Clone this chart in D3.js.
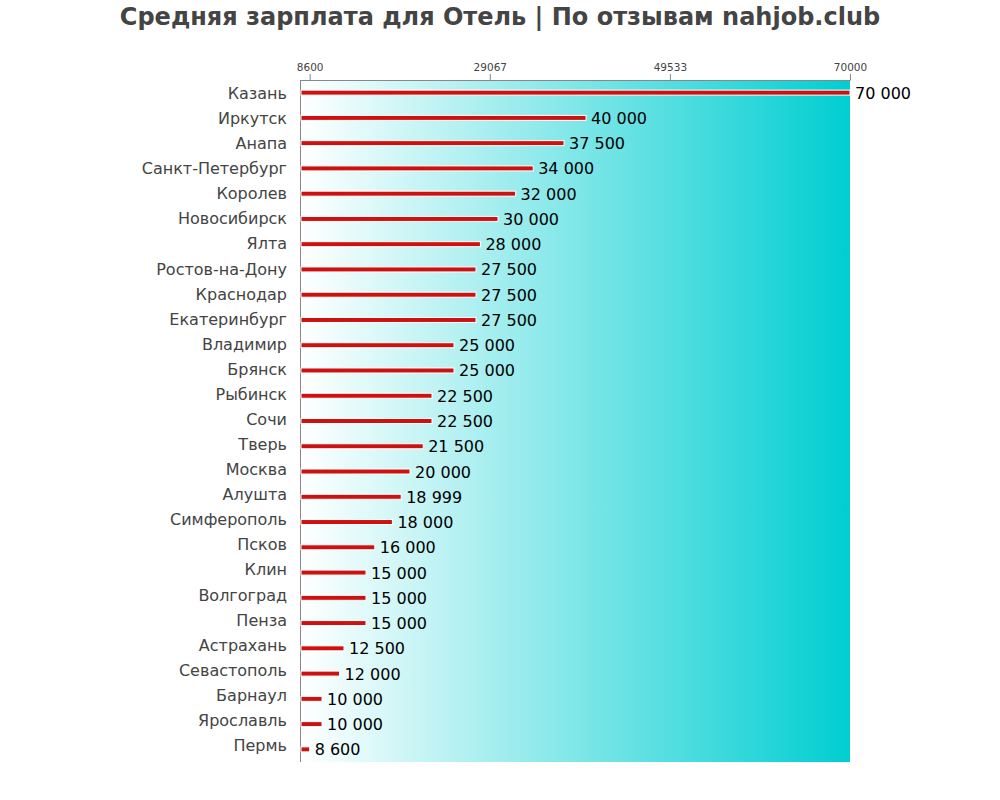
<!DOCTYPE html>
<html><head><meta charset="utf-8">
<script src="https://cdn.jsdelivr.net/npm/d3@7"></script>
<style>body{margin:0;background:#fff;}svg{display:block;font-family:"DejaVu Sans",sans-serif;}</style>
</head><body>
<svg id="c" width="1000" height="800"></svg>
<script>
const categories = ["Казань","Иркутск","Анапа","Санкт-Петербург","Королев","Новосибирск","Ялта","Ростов-на-Дону","Краснодар","Екатеринбург","Владимир","Брянск","Рыбинск","Сочи","Тверь","Москва","Алушта","Симферополь","Псков","Клин","Волгоград","Пенза","Астрахань","Севастополь","Барнаул","Ярославль","Пермь"];
const values = [70000,40000,37500,34000,32000,30000,28000,27500,27500,27500,25000,25000,22500,22500,21500,20000,18999,18000,16000,15000,15000,15000,12500,12000,10000,10000,8600];
const tickValues = [8600,29067,49533,70000];
const title = "Средняя зарплата для Отель | По отзывам nahjob.club";

const svg = d3.select("#c");
const L=300, R=850, T=80, B=762;
const x = d3.scaleLinear().domain([7500,70000]).range([L,R]);
const y = d3.scaleBand().domain(categories).range([T,B]);
const yl = d3.scaleBand().domain(categories).range([T+0.5,B-4.5]);

const defs = svg.append("defs");
const g = defs.append("linearGradient").attr("id","bg").attr("x1","0").attr("x2","1").attr("y1","0").attr("y2","0");
g.append("stop").attr("offset","0").attr("stop-color","#ffffff");
g.append("stop").attr("offset","1").attr("stop-color","#00ced1");
svg.append("rect").attr("x",L).attr("y",T).attr("width",R-L).attr("height",B-T).attr("fill","url(#bg)");

svg.append("text").attr("x",500).attr("y",25).attr("text-anchor","middle")
  .attr("font-size",24).attr("font-weight","bold").attr("fill","#444").text(title);

const ax = svg.append("g").attr("transform",`translate(0,${T})`)
  .call(d3.axisTop(x).tickValues(tickValues).tickFormat(d=>String(d)).tickSize(6).tickSizeOuter(0));
ax.select(".domain").attr("stroke","#888");
ax.selectAll(".tick line").attr("stroke","#888");
ax.selectAll(".tick text").attr("font-size",10.5).attr("fill","#444").attr("font-family","DejaVu Sans, sans-serif");

svg.append("line").attr("x1",L+0.5).attr("x2",L+0.5).attr("y1",T).attr("y2",B).attr("stroke","#888");

const fmt = v => d3.format(",")(v).replace(/,/g," ");
const rows = svg.append("g").selectAll("g").data(categories).join("g");
rows.append("rect")
  .attr("x",L+1).attr("y",d=>y(d)+y.bandwidth()/2-2.5)
  .attr("width",(d,i)=>x(values[i])-L-1).attr("height",5)
  .attr("fill","#cc1111").attr("stroke","#fff").attr("stroke-width",1);
rows.append("text").attr("x",287).attr("y",d=>yl(d)+yl.bandwidth()/2+6)
  .attr("text-anchor","end").attr("font-size",16).attr("fill","#444").text(d=>d);
rows.append("text").attr("x",(d,i)=>x(values[i])+5).attr("y",d=>y(d)+y.bandwidth()/2+6)
  .attr("font-size",16).attr("fill","#000").text((d,i)=>fmt(values[i]));
</script>
</body></html>
